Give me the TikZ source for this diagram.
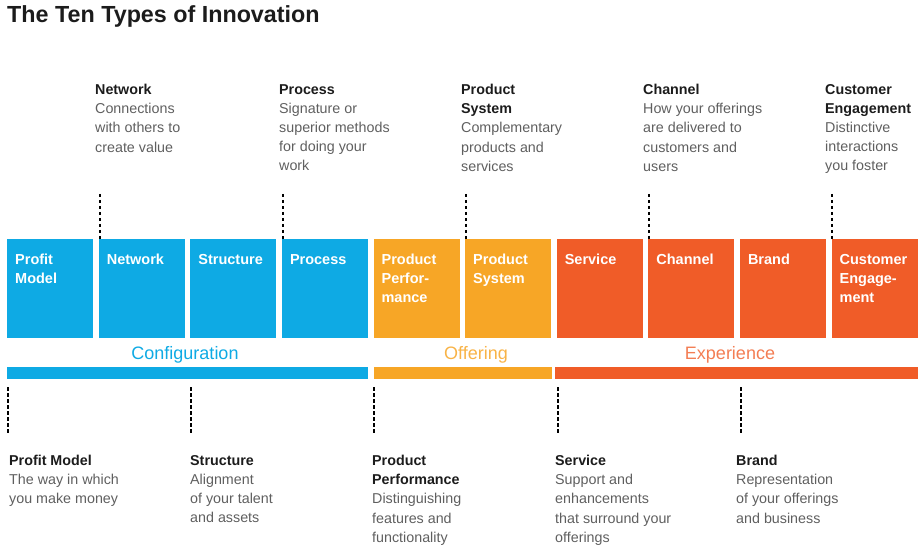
\documentclass[tikz,border=0pt]{standalone}
\usepackage{fontspec}
\setmainfont{Liberation Sans}
\usepackage{xcolor}
\definecolor{cfg}{RGB}{14,170,228}
\definecolor{off}{RGB}{247,166,38}
\definecolor{exp}{RGB}{240,92,40}
\definecolor{ttl}{RGB}{28,28,28}
\definecolor{desc}{RGB}{95,95,95}
\newcommand{\hd}[1]{\textbf{\color{ttl}#1}}

\begin{document}
\begin{tikzpicture}[x=1pt,y=1pt,
tile/.style={anchor=north west,minimum width=86pt,minimum height=99pt,inner sep=0pt},
tilename/.style={anchor=north west,align=left,inner sep=0pt,text=white,font=\fontsize{14.5}{19}\selectfont\bfseries},
note/.style={anchor=north west,align=left,inner sep=0pt,text=desc,font=\fontsize{14.3}{19.2}\selectfont},
group/.style={anchor=base,inner sep=0pt,font=\fontsize{18}{18}\selectfont},
lead/.style={line width=2pt,dash pattern=on 3.5pt off 2.5pt}]
\useasboundingbox (0,0) rectangle (918,544);
\node[anchor=base west,inner sep=0pt,text=ttl,font=\fontsize{23.3}{24}\selectfont\bfseries] (heading) at (7,521) {The Ten Types of Innovation};
\foreach \n/\lbl/\col [count=\i from 0] in {pm/{Profit\\Model}/cfg, nw/Network/cfg, st/Structure/cfg, pr/Process/cfg, pp/{Product\\Perfor-\\mance}/off, ps/{Product\\System}/off, sv/Service/exp, ch/Channel/exp, br/Brand/exp, ce/{Customer\\Engage-\\ment}/exp}{
\node[tile,fill=\col] (\n) at (7+91.6*\i,305) {};
\node[tilename] (\n-name) at ([xshift=8pt,yshift=-15pt]\n.north west) {\lbl};
}
\fill[cfg] (7,177) rectangle (368,165);
\fill[off] (374,177) rectangle (552,165);
\fill[exp] (555,177) rectangle (918,165);
\node[group,text=cfg] (configuration) at (185,185) {Configuration};
\node[group,text=off!85] (offering) at (476,185) {Offering};
\node[group,text=exp!80] (experience) at (730,185) {Experience};
\foreach \n in {nw,pr,ps,ch,ce}{
\coordinate (\n-top) at ([xshift=1pt,yshift=45pt]\n.north west);
\draw[lead] (\n-top) -- ([xshift=1pt]\n.north west);
}
\foreach \n in {pm,st,pp,sv,br}{
\coordinate (\n-a) at ([xshift=1pt]\n.south west |- 0,157);
\coordinate (\n-b) at ([xshift=1pt]\n.south west |- 0,111);
\draw[lead] (\n-a) -- (\n-b);
}
\node[note] (nw-note) at (95,460) {\hd{Network}\\Connections\\with others to\\create value};
\node[note] (pr-note) at (279,460) {\hd{Process}\\Signature or\\superior methods\\for doing your\\work};
\node[note] (ps-note) at (461,460) {\hd{Product}\\\hd{System}\\Complementary\\products and\\services};
\node[note] (ch-note) at (643,460) {\hd{Channel}\\How your offerings\\are delivered to\\customers and\\users};
\node[note] (ce-note) at (825,460) {\hd{Customer}\\\hd{Engagement}\\Distinctive\\interactions\\you foster};
\node[note] (pm-note) at (9,89) {\hd{Profit Model}\\The way in which\\you make money};
\node[note] (st-note) at (190,89) {\hd{Structure}\\Alignment\\of your talent\\and assets};
\node[note] (pp-note) at (372,89) {\hd{Product}\\\hd{Performance}\\Distinguishing\\features and\\functionality};
\node[note] (sv-note) at (555,89) {\hd{Service}\\Support and\\enhancements\\that surround your\\offerings};
\node[note] (br-note) at (736,89) {\hd{Brand}\\Representation\\of your offerings\\and business};
\end{tikzpicture}
\end{document}
